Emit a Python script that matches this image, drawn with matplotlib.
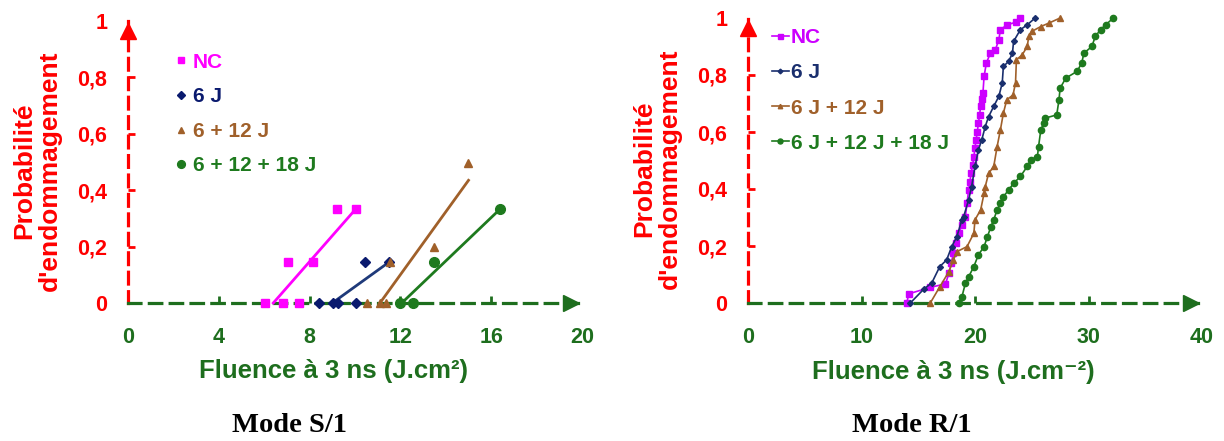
import numpy as np
import matplotlib
matplotlib.use("Agg")
import matplotlib.pyplot as plt

plt.rcParams['font.family'] = ['Liberation Sans', 'DejaVu Sans']
plt.rcParams['font.weight'] = 'bold'
plt.rcParams['lines.scale_dashes'] = False

RED = '#ff0000'
AXGREEN = '#1e6e1e'

# ---- Mode S/1 : points (fluence, probabilite) ----
s_labels = ['NC', '6 J', '6 + 12 J', '6 + 12 + 18 J']
s_colors = ['#ff00ff', '#0a1a6e', '#a0602a', '#1e7a1e']
s_markers = ['s', 'D', '^', 'o']
s_msize = [6, 5, 6, 7]

s_nc_x = [6.04, 6.81, 7.53, 7.03, 8.16, 9.19, 10.03]
s_nc_y = [0, 0, 0, 0.145, 0.145, 0.333, 0.333]
s_6_x = [8.41, 9.04, 9.26, 10.03, 10.44, 11.51]
s_6_y = [0, 0, 0, 0, 0.145, 0.145]
s_612_x = [10.51, 11.1, 11.37, 11.55, 13.49, 14.99]
s_612_y = [0, 0, 0, 0.145, 0.197, 0.496]
s_61218_x = [11.98, 12.57, 13.49, 16.39]
s_61218_y = [0, 0, 0.145, 0.333]

# trend lines (end points)
s_fit_x = [[6.4, 10.03], [9.0, 11.5], [11.1, 15.0], [12.06, 16.39]]
s_fit_y = [[0, 0.333], [0, 0.145], [0, 0.435], [0, 0.333]]
s_fit_colors = ['#ff00ff', '#1f3a7a', '#a0602a', '#1e7a1e']

# ---- Mode R/1 : cumulative curves ----
r_labels = ['NC', '6 J', '6 J + 12 J', '6 J + 12 J + 18 J']
r_colors = ['#cc00ff', '#1a2f6e', '#a0602a', '#1e7a1e']
r_markers = ['s', 'D', '^', 'o']
r_msize = [4.5, 3, 4, 4.5]

r_nc_x = [14.0, 14.15, 16.06, 17.4, 17.7, 17.9, 18.1, 18.36, 18.56, 18.85, 19.15, 19.3,
          19.44, 19.55, 19.65, 19.8, 19.9, 20.0, 20.1, 20.2, 20.3, 20.4, 20.5, 20.6, 20.7,
          20.8, 21.0, 21.36, 21.8, 22.1, 22.24, 22.83, 23.57, 24.0]
r_nc_y = [0.0, 0.032, 0.055, 0.067, 0.104, 0.139, 0.175, 0.21, 0.245, 0.275, 0.303, 0.35,
          0.397, 0.425, 0.455, 0.485, 0.514, 0.545, 0.573, 0.6, 0.63, 0.66, 0.69, 0.715, 0.737,
          0.795, 0.842, 0.877, 0.889, 0.924, 0.959, 0.976, 0.985, 1.0]
r_6_x = [14.3, 15.47, 16.2, 16.9, 17.5, 17.95, 18.4, 18.85, 19.0, 19.44, 19.7, 20.0, 20.3,
         20.6, 20.9, 21.2, 21.65, 22.1, 22.4, 22.5, 22.97, 23.3, 23.4, 24.0, 24.6, 25.3]
r_6_y = [0.0, 0.048, 0.071, 0.128, 0.151, 0.198, 0.233, 0.292, 0.303, 0.362, 0.408, 0.479,
         0.537, 0.573, 0.619, 0.654, 0.69, 0.725, 0.772, 0.83, 0.848, 0.877, 0.918, 0.959,
         0.976, 1.0]
r_612_x = [16.06, 16.9, 17.7, 18.1, 18.4, 19.3, 19.9, 20.0, 20.5, 20.8, 20.9, 21.2, 21.65,
           21.95, 22.24, 22.5, 22.8, 23.35, 23.57, 23.65, 24.15, 24.6, 24.74, 25.0, 25.8,
           26.5, 27.5]
r_612_y = [0.0, 0.057, 0.11, 0.151, 0.18, 0.198, 0.245, 0.292, 0.327, 0.385, 0.408, 0.455,
           0.479, 0.549, 0.608, 0.666, 0.713, 0.73, 0.772, 0.854, 0.87, 0.9, 0.936, 0.953,
           0.97, 0.982, 1.0]
r_61218_x = [18.56, 18.85, 19.15, 19.44, 19.9, 20.3, 20.8, 21.1, 21.4, 21.65, 21.95, 22.24,
             22.5, 22.97, 23.4, 24.0, 24.6, 24.9, 25.5, 25.6, 25.8, 26.06, 26.2, 27.2, 27.4,
             27.5, 28.0, 29.0, 29.4, 29.6, 30.3, 30.6, 31.07, 31.5, 32.2]
r_61218_y = [0.0, 0.022, 0.069, 0.092, 0.128, 0.169, 0.198, 0.233, 0.268, 0.292, 0.327,
             0.35, 0.373, 0.397, 0.42, 0.444, 0.479, 0.502, 0.514, 0.549, 0.608, 0.631,
             0.649, 0.66, 0.713, 0.754, 0.789, 0.813, 0.842, 0.877, 0.9, 0.936, 0.959,
             0.976, 1.0]

y_ticks = [0, 0.2, 0.4, 0.6, 0.8, 1.0]
y_ticklabels = ['0', '0,2', '0,4', '0,6', '0,8', '1']


def style_axes(ax, xmax, xticks, inner_ticks, xlabel):
    ax.set_xlim(0, xmax)
    ax.set_ylim(0, 1)
    for side in ['top', 'right']:
        ax.spines[side].set_visible(False)
    ax.spines['left'].set_color(RED)
    ax.spines['left'].set_linewidth(2.3)
    ax.spines['left'].set_linestyle((0, (8.5, 5.5)))
    ax.spines['bottom'].set_color(AXGREEN)
    ax.spines['bottom'].set_linewidth(2.3)
    ax.spines['bottom'].set_linestyle((0, (9, 6)))
    ax.set_xticks(xticks)
    ax.set_xticklabels([str(t) for t in xticks])
    ax.set_yticks(y_ticks)
    ax.set_yticklabels(y_ticklabels)
    ax.tick_params(axis='y', direction='in', length=5, width=2, color=RED,
                   labelcolor=RED, labelsize=15.5, pad=15)
    ax.tick_params(axis='x', direction='in', length=5, width=2, color=AXGREEN,
                   labelcolor=AXGREEN, labelsize=15.5, pad=17)
    # hide tick marks at the ends
    for i, t in enumerate(ax.xaxis.get_major_ticks()):
        if xticks[i] not in inner_ticks:
            t.tick1line.set_visible(False)
    for t in ax.yaxis.get_major_ticks()[0:1] + ax.yaxis.get_major_ticks()[-1:]:
        t.tick1line.set_visible(False)
    ax.plot([0], [0.965], marker='^', color=RED, markersize=12, clip_on=False,
            transform=ax.transAxes)
    ax.plot([0.975], [0], marker='>', color=AXGREEN, markersize=12, clip_on=False,
            transform=ax.transAxes)
    ax.set_xlabel(xlabel, color=AXGREEN, fontsize=18.5, fontweight='bold')
    ax.xaxis.set_label_coords(0.452, -0.2)
    ax.set_ylabel("Probabilité\nd'endommagement", color=RED, fontsize=19,
                  fontweight='bold', linespacing=1.1)
    ax.yaxis.set_label_coords(-0.145, 0.47)
    ax.set_facecolor('none')


fig = plt.figure(figsize=(12.24, 4.41), dpi=100)
W, H = 1224.0, 441.0

# ---------- left panel ----------
ax1 = fig.add_axes([128 / W, 1 - 303 / H, (582 - 128) / W, (303 - 21) / H])
style_axes(ax1, 20, [0, 4, 8, 12, 16, 20], [4, 8, 12, 16], 'Fluence à 3 ns (J.cm²)')

s_xs = [s_nc_x, s_6_x, s_612_x, s_61218_x]
s_ys = [s_nc_y, s_6_y, s_612_y, s_61218_y]
for i in range(4):
    ax1.plot(s_fit_x[i], s_fit_y[i], color=s_fit_colors[i], lw=2, clip_on=False, zorder=3)
for i in range(4):
    ax1.plot(s_xs[i], s_ys[i], ls='none', marker=s_markers[i], color=s_colors[i],
             markersize=s_msize[i], label=s_labels[i], clip_on=False, zorder=4)
ax1.legend(loc='upper left', bbox_to_anchor=(0.083, 0.925), frameon=False, fontsize=15,
           handlelength=0.5, handletextpad=0.3, labelspacing=0.75, borderpad=0,
           labelcolor='linecolor', markerscale=0.8)

# ---------- right panel ----------
ax2 = fig.add_axes([748 / W, 1 - 303 / H, (1202 - 748) / W, (303 - 18) / H])
style_axes(ax2, 40, [0, 10, 20, 30, 40], [10, 20, 30], 'Fluence à 3 ns (J.cm⁻²)')

r_xs = [r_nc_x, r_6_x, r_612_x, r_61218_x]
r_ys = [r_nc_y, r_6_y, r_612_y, r_61218_y]
for i in range(4):
    ax2.plot(r_xs[i], r_ys[i], color=r_colors[i], lw=1.2, marker=r_markers[i],
             markersize=r_msize[i], label=r_labels[i], clip_on=False, zorder=3)
ax2.legend(loc='upper left', bbox_to_anchor=(0.03, 1.0), frameon=False, fontsize=15,
           handlelength=0.8, handletextpad=0.1, labelspacing=0.77, borderpad=0,
           labelcolor='linecolor', markerscale=0.8)

fig.text(290 / W, 1 - 425 / H, 'Mode S/1', ha='center', va='center', fontsize=20.5,
         family=['Liberation Serif', 'DejaVu Serif'], weight='bold')
fig.text(912 / W, 1 - 425 / H, 'Mode R/1', ha='center', va='center', fontsize=20.5,
         family=['Liberation Serif', 'DejaVu Serif'], weight='bold')

fig.savefig('out.png', dpi=100)
